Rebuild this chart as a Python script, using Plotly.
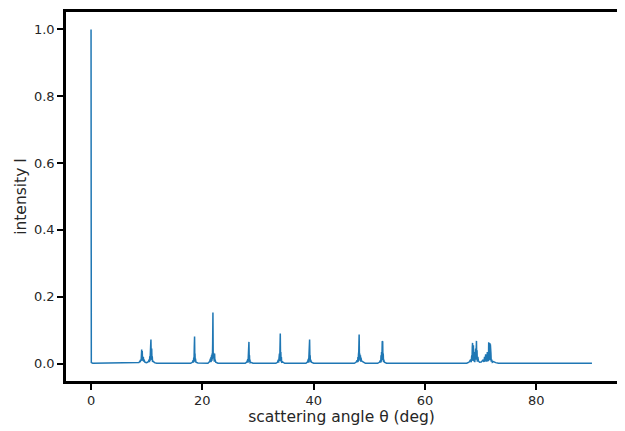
import plotly.graph_objects as go

theta = [
    0, 0.05, 0.3, 8.3,
    8.6, 8.8, 8.85, 8.9, 8.95, 9.0, 9.05, 9.1, 9.15, 9.2, 9.25, 9.28, 9.33, 9.4, 9.45, 9.5, 9.6, 9.7, 10.0, 10.3, 10.45, 10.5, 10.55, 10.6, 10.65, 10.7, 10.76, 10.82, 10.86, 10.9, 10.95, 11.0, 11.05, 11.1, 11.4, 11.8,
    17.9, 18.2, 18.35, 18.4, 18.45, 18.5, 18.55, 18.6, 18.65, 18.68, 18.72, 18.76, 18.85, 19.2,
    21.0, 21.3, 21.45, 21.5, 21.55, 21.6, 21.65, 21.7, 21.75, 21.8, 21.85, 21.9, 21.95, 22.0, 22.05, 22.1, 22.15, 22.2, 22.25, 22.3, 22.4, 22.8,
    27.7, 28.0, 28.15, 28.2, 28.25, 28.3, 28.37, 28.43, 28.47, 28.5, 28.55, 28.6, 28.7, 29.1,
    33.2, 33.5, 33.65, 33.7, 33.75, 33.8, 33.85, 33.9, 33.95, 34.0, 34.05, 34.1, 34.15, 34.2, 34.25, 34.4, 34.8,
    38.6, 38.9, 39.05, 39.1, 39.15, 39.2, 39.27, 39.33, 39.37, 39.41, 39.45, 39.6, 40.0,
    47.3, 47.6, 47.8, 47.9, 47.95, 48.0, 48.05, 48.1, 48.17, 48.23, 48.28, 48.35, 48.4, 48.45, 48.5, 48.6, 48.9, 49.3,
    51.5, 51.8, 52.0, 52.05, 52.1, 52.15, 52.2, 52.25, 52.32, 52.4, 52.45, 52.5, 52.55, 52.6, 52.7, 53.1,
    67.5, 67.9, 68.2, 68.3, 68.4, 68.45, 68.5, 68.55, 68.6, 68.65, 68.7, 68.75, 68.8, 68.85, 68.9, 68.95, 69.0, 69.05, 69.1, 69.15, 69.2, 69.25, 69.3, 69.35, 69.4, 69.5, 69.6, 69.8, 70.1,
    70.4, 70.6, 70.7, 70.8, 70.9, 70.95, 71.0, 71.1, 71.2, 71.3, 71.35, 71.4, 71.45, 71.5, 71.55, 71.6, 71.65, 71.7, 71.75, 71.8, 71.85, 71.9, 72.0, 72.1, 72.3, 72.7, 73.2, 90,
]
intensity = [
    1.0, 0.003, 0.001, 0.001,
    0.003, 0.008, 0.004, 0.012, 0.02, 0.008, 0.035, 0.042, 0.012, 0.038, 0.01, 0.022, 0.008, 0.02, 0.006, 0.012, 0.004, 0.004, 0.003, 0.006, 0.012, 0.004, 0.022, 0.008, 0.03, 0.05, 0.072, 0.012, 0.04, 0.045, 0.01, 0.022, 0.005, 0.008, 0.003, 0.001,
    0.001, 0.004, 0.01, 0.003, 0.018, 0.006, 0.05, 0.081, 0.01, 0.03, 0.006, 0.015, 0.004, 0.002,
    0.001, 0.006, 0.015, 0.004, 0.02, 0.006, 0.025, 0.008, 0.03, 0.012, 0.06, 0.153, 0.02, 0.032, 0.008, 0.028, 0.006, 0.03, 0.008, 0.012, 0.004, 0.001,
    0.001, 0.005, 0.012, 0.003, 0.02, 0.035, 0.065, 0.01, 0.025, 0.004, 0.012, 0.003, 0.004, 0.001,
    0.001, 0.004, 0.012, 0.003, 0.018, 0.005, 0.03, 0.008, 0.05, 0.09, 0.01, 0.035, 0.006, 0.02, 0.004, 0.005, 0.001,
    0.001, 0.005, 0.014, 0.003, 0.02, 0.035, 0.072, 0.01, 0.025, 0.004, 0.012, 0.004, 0.001,
    0.001, 0.004, 0.01, 0.004, 0.02, 0.006, 0.028, 0.035, 0.087, 0.012, 0.03, 0.008, 0.025, 0.006, 0.018, 0.008, 0.004, 0.001,
    0.001, 0.004, 0.01, 0.003, 0.025, 0.006, 0.035, 0.01, 0.066, 0.067, 0.01, 0.03, 0.005, 0.012, 0.004, 0.001,
    0.001, 0.004, 0.012, 0.004, 0.025, 0.008, 0.05, 0.062, 0.01, 0.04, 0.055, 0.008, 0.035, 0.006, 0.02, 0.004, 0.03, 0.008, 0.045, 0.012, 0.055, 0.068, 0.015, 0.04, 0.006, 0.02, 0.008, 0.004, 0.005,
    0.01, 0.005, 0.02, 0.006, 0.028, 0.008, 0.025, 0.006, 0.035, 0.01, 0.03, 0.008, 0.064, 0.012, 0.05, 0.015, 0.062, 0.01, 0.058, 0.012, 0.03, 0.006, 0.012, 0.004, 0.006, 0.003, 0.001, 0.001,
]

x_ticks = [0, 20, 40, 60, 80]
y_ticks = [0.0, 0.2, 0.4, 0.6, 0.8, 1.0]
y_tick_labels = ["0.0", "0.2", "0.4", "0.6", "0.8", "1.0"]

fig = go.Figure()
fig.add_trace(go.Scatter(
    x=theta, y=intensity, mode="lines",
    line=dict(color="#1f77b4", width=1.5),
    showlegend=False,
))

font = dict(family="DejaVu Sans", size=13, color="#262626")
title_font = dict(family="DejaVu Sans", size=15.5, color="#262626")
axis_common = dict(
    showgrid=False, zeroline=False, automargin=False,
    showline=True, linecolor="black", linewidth=2.5, mirror=True,
    ticks="outside", ticklen=6, tickwidth=2, tickcolor="black",
    tickfont=font,
)
fig.update_layout(
    width=617, height=423,
    margin=dict(l=58, r=8, t=4, b=49.5),
    paper_bgcolor="white", plot_bgcolor="white",
    font=font,
    xaxis=dict(range=[-4.5, 94.5], tickvals=x_ticks,
               title=dict(text="scattering angle θ (deg)", font=title_font, standoff=2),
               **axis_common),
    yaxis=dict(range=[-0.052, 1.052], tickvals=y_ticks, ticktext=y_tick_labels,
               title=dict(text="intensity I", font=title_font, standoff=4),
               **axis_common),
)
fig.write_html("out.html")
